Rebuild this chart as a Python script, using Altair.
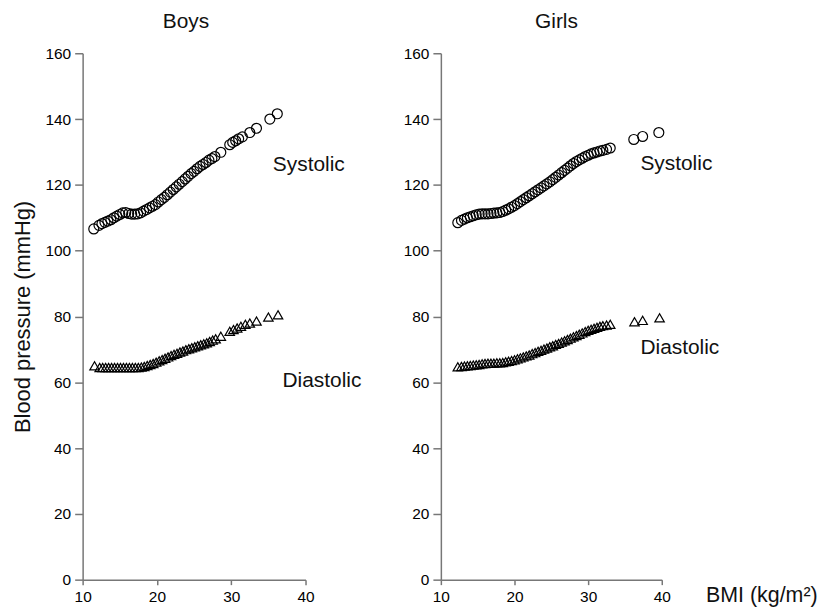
import altair as alt
import pandas as pd

# ---------------- data ----------------
boys_sys_bmi = [11.5, 12.2, 12.6, 13.0, 13.4, 13.8, 14.2, 14.6, 15.0, 15.4, 15.8, 16.2, 16.6,
                17.0, 17.4, 17.8, 18.2, 18.6, 19.0, 19.4, 19.8, 20.2, 20.6, 21.0, 21.4, 21.8,
                22.2, 22.6, 23.0, 23.4, 23.8, 24.2, 24.6, 25.0, 25.4, 25.8, 26.2, 26.6, 27.0,
                27.4, 27.8, 28.6, 29.8, 30.2, 30.6, 31.0, 31.5, 32.5, 33.4, 35.2, 36.2]
boys_sys_bp = [106.6, 107.7, 108.2, 108.6, 109.0, 109.4, 110.0, 110.5, 111.0, 111.5, 111.6,
               111.3, 111.1, 111.1, 111.2, 111.5, 112.0, 112.5, 113.0, 113.5, 114.0, 114.8,
               115.5, 116.2, 117.0, 117.8, 118.6, 119.4, 120.2, 121.0, 121.8, 122.6, 123.4,
               124.1, 124.9, 125.6, 126.2, 126.8, 127.5, 128.0, 128.6, 129.9, 132.2, 132.9,
               133.4, 134.0, 134.6, 135.9, 137.2, 140.0, 141.6]

boys_dia_bmi = [11.6, 12.3, 12.7, 13.1, 13.5, 13.9, 14.3, 14.7, 15.1, 15.5, 15.9, 16.3, 16.7,
                17.1, 17.5, 17.9, 18.3, 18.7, 19.1, 19.5, 19.9, 20.3, 20.7, 21.1, 21.5, 21.9,
                22.3, 22.7, 23.1, 23.5, 23.9, 24.3, 24.7, 25.1, 25.5, 25.9, 26.3, 26.7, 27.1,
                27.5, 27.9, 28.6, 29.8, 30.3, 30.8, 31.3, 31.9, 32.5, 33.4, 35.0, 36.3]
boys_dia_bp = [65.0, 64.5, 64.5, 64.5, 64.5, 64.5, 64.5, 64.5, 64.5, 64.5, 64.5, 64.5, 64.5,
               64.5, 64.5, 64.6, 64.8, 65.1, 65.4, 65.7, 66.1, 66.5, 66.9, 67.3, 67.7, 68.1,
               68.5, 68.8, 69.2, 69.5, 69.9, 70.2, 70.5, 70.8, 71.1, 71.4, 71.7, 72.0, 72.4,
               72.8, 73.2, 74.0, 75.5, 76.0, 76.5, 77.0, 77.6, 78.0, 78.6, 79.8, 80.5]

girls_sys_bmi = [12.3, 12.8, 13.2, 13.6, 14.0, 14.4, 14.8, 15.2, 15.6, 16.0, 16.4, 16.8, 17.2,
                 17.6, 18.0, 18.4, 18.8, 19.2, 19.6, 20.0, 20.4, 20.8, 21.2, 21.6, 22.0, 22.4,
                 22.8, 23.2, 23.6, 24.0, 24.4, 24.8, 25.2, 25.6, 26.0, 26.4, 26.8, 27.2, 27.6,
                 28.0, 28.4, 28.8, 29.2, 29.6, 30.0, 30.4, 30.8, 31.2, 31.6, 32.0, 32.5, 33.0,
                 36.2, 37.4, 39.6]
girls_sys_bp = [108.5, 109.2, 109.6, 110.0, 110.3, 110.6, 110.9, 111.1, 111.2, 111.2, 111.2,
                111.3, 111.4, 111.5, 111.6, 111.9, 112.3, 112.7, 113.2, 113.7, 114.3, 114.9,
                115.5, 116.1, 116.7, 117.3, 117.9, 118.5, 119.1, 119.7, 120.3, 120.9, 121.6,
                122.3, 123.0, 123.7, 124.4, 125.1, 125.8, 126.5, 127.1, 127.6, 128.1, 128.6,
                129.0, 129.4, 129.7, 130.0, 130.3, 130.5, 130.8, 131.2, 133.8, 134.7, 135.9]

girls_dia_bmi = [12.3, 12.8, 13.2, 13.6, 14.0, 14.4, 14.8, 15.2, 15.6, 16.0, 16.4, 16.8, 17.2,
                 17.6, 18.0, 18.4, 18.8, 19.2, 19.6, 20.0, 20.4, 20.8, 21.2, 21.6, 22.0, 22.4,
                 22.8, 23.2, 23.6, 24.0, 24.4, 24.8, 25.2, 25.6, 26.0, 26.4, 26.8, 27.2, 27.6,
                 28.0, 28.4, 28.8, 29.2, 29.6, 30.0, 30.4, 30.8, 31.2, 31.6, 32.0, 32.5, 33.0,
                 36.3, 37.4, 39.7]
girls_dia_bp = [64.7, 64.8, 64.9, 65.0, 65.1, 65.2, 65.3, 65.4, 65.6, 65.7, 65.8, 65.8, 65.8,
                65.9, 65.9, 66.0, 66.2, 66.4, 66.6, 66.8, 67.1, 67.4, 67.7, 68.0, 68.3, 68.7,
                69.0, 69.4, 69.7, 70.1, 70.4, 70.8, 71.1, 71.5, 71.8, 72.2, 72.6, 73.0, 73.4,
                73.8, 74.2, 74.6, 75.0, 75.4, 75.8, 76.1, 76.4, 76.7, 77.0, 77.2, 77.4, 77.6,
                78.4, 78.8, 79.6]

label_text = ["Systolic", "Diastolic"]
boys_label_bmi = [35.6, 36.9]
boys_label_bp = [124.2, 58.7]
girls_label_bmi = [37.1, 37.1]
girls_label_bp = [124.5, 68.5]

# panel headings (placed above each plot, in data units)
boys_head = {"txt": ["Boys"], "bmi": [23.9], "bp": [167.7]}
girls_head = {"txt": ["Girls"], "bmi": [25.7], "bp": [167.7]}

x_ticks = [10, 20, 30, 40]
y_ticks = [0, 20, 40, 60, 80, 100, 120, 140, 160]

FONT = "Liberation Sans"
AXIS_COL = "#777777"


def panel(head, sbmi, sbp, dbmi, dbp, lbmi, lbp, width, ytitle, xtitle):
    sys_df = pd.DataFrame({"bmi": sbmi, "bp": sbp})
    dia_df = pd.DataFrame({"bmi": dbmi, "bp": dbp})
    lab_df = pd.DataFrame({"bmi": lbmi, "bp": lbp, "txt": label_text})
    head_df = pd.DataFrame(head)

    common = dict(values=x_ticks, labelFontSize=15.5, labelFont=FONT, labelColor="#000000",
                  tickSize=5, labelPadding=5, labelFlush=False)
    if xtitle:
        xaxis = alt.Axis(title=xtitle, titleX=266, titleY=22,
                         titleAlign="left", titleBaseline="alphabetic",
                         titleFontSize=21.5, titleFontWeight="normal", titleColor="#111111",
                         titleFont=FONT, **common)
    else:
        xaxis = alt.Axis(title=None, **common)
    ycommon = dict(values=y_ticks, labelFontSize=15.5, labelFont=FONT, labelColor="#000000",
                   tickSize=8, labelPadding=4, labelFlush=False)
    if ytitle:
        yaxis = alt.Axis(title=ytitle, titleFontSize=22,
                         titleFontWeight="normal", titlePadding=11, titleColor="#111111",
                         titleFont=FONT, **ycommon)
    else:
        yaxis = alt.Axis(title=None, **ycommon)

    xs = alt.Scale(domain=[10, 40], nice=False, zero=False)
    ys = alt.Scale(domain=[0, 160], nice=False)

    sys_layer = alt.Chart(sys_df).mark_point(
        shape="circle", filled=False, size=100, stroke="black", strokeWidth=1.2, opacity=1
    ).encode(x=alt.X("bmi:Q", scale=xs, axis=xaxis), y=alt.Y("bp:Q", scale=ys, axis=yaxis))
    dia_layer = alt.Chart(dia_df).mark_point(
        shape="triangle-up", filled=False, size=90, stroke="black", strokeWidth=1.2, opacity=1
    ).encode(x="bmi:Q", y="bp:Q")
    txt_layer = alt.Chart(lab_df).mark_text(
        align="left", baseline="alphabetic", fontSize=21, font=FONT, color="#111111"
    ).encode(x="bmi:Q", y="bp:Q", text="txt:N")
    head_layer = alt.Chart(head_df).mark_text(
        align="center", baseline="alphabetic", fontSize=21, font=FONT, color="#111111"
    ).encode(x="bmi:Q", y="bp:Q", text="txt:N")

    return alt.layer(sys_layer, dia_layer, txt_layer, head_layer).properties(
        width=width, height=529
    )


boys = panel(boys_head, boys_sys_bmi, boys_sys_bp, boys_dia_bmi, boys_dia_bp,
             boys_label_bmi, boys_label_bp, 224, "Blood pressure (mmHg)", None)
girls = panel(girls_head, girls_sys_bmi, girls_sys_bp, girls_dia_bmi, girls_dia_bp,
              girls_label_bmi, girls_label_bp, 222, None, "BMI (kg/m²)")

chart = alt.hconcat(boys, girls, spacing=136, bounds="flush").properties(
    padding={"left": 3, "top": 1, "right": 0, "bottom": 0}
).configure_view(stroke=None).configure_axis(
    grid=False, domainColor=AXIS_COL, tickColor=AXIS_COL, domainWidth=1.5, tickWidth=1.5,
)

chart.save("out.html", embed_options={"renderer": "svg", "actions": False})
